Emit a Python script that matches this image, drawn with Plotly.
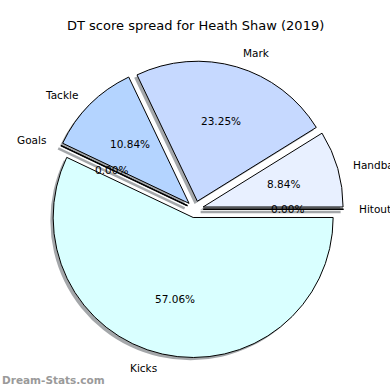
import numpy as np
import plotly.graph_objects as go

# ---- data ----
categories = ["Hitout", "Handball", "Mark", "Tackle", "Goals", "Kicks"]
values = [0.0, 8.84, 23.25, 10.84, 0.0, 57.06]
slice_colors = ["#e4eeff", "#e8f0ff", "#c6d9ff", "#b4d4ff", "#c0dcff", "#d9ffff"]
explode = [0.06, 0.06, 0.06, 0.06, 0.06, 0.06]
title_text = "DT score spread for Heath Shaw (2019)"
watermark = "Dream-Stats.com"

# ---- geometry (pixels) ----
W = H = 390
CX, CY, R = 195.0, 209.3, 140.0
maxpull = max(explode)
half = R * (1 + maxpull)
dom_x = [(CX - half) / W, (CX + half) / W]
dom_y = [(H - (CY + half)) / H, (H - (CY - half)) / H]
SH = 2.8  # shadow offset px (left / down)
sdom_x = [dom_x[0] - SH / W, dom_x[1] - SH / W]
sdom_y = [dom_y[0] - SH / H, dom_y[1] - SH / H]

font_family = "DejaVu Sans"

fig = go.Figure()

# shadow
fig.add_trace(go.Pie(
    labels=categories, values=values, sort=False, direction="counterclockwise",
    rotation=90, pull=explode, domain=dict(x=sdom_x, y=sdom_y),
    marker=dict(colors=["rgba(90,95,100,0.55)"] * len(values), line=dict(width=0)),
    textinfo="none", hoverinfo="skip", showlegend=False,
))
# wedges
fig.add_trace(go.Pie(
    labels=categories, values=values, sort=False, direction="counterclockwise",
    rotation=90, pull=explode, domain=dict(x=dom_x, y=dom_y),
    marker=dict(colors=slice_colors, line=dict(color="black", width=1)),
    textinfo="none", showlegend=False,
))

# label positions (matplotlib style): label at 1.1r, pct at 0.6r, shifted by explode
total = sum(values)
start = 0.0
lx, ly, px, py = [], [], [], []
zero_lines_x, zero_lines_y = [], []
sx, sy = [], []
for cat, v, e in zip(categories, values, explode):
    frac = v / total
    mid = np.deg2rad(360 * (start + frac / 2))
    c, s = np.cos(mid), np.sin(mid)
    lx.append((1.1 + e) * c); ly.append((1.1 + e) * s)
    px.append((0.6 + e) * c); py.append((0.6 + e) * s)
    if v == 0:
        zero_lines_x += [e * c, (1 + e) * c, None]
        zero_lines_y += [e * s, (1 + e) * s, None]
        sx += [e * c - SH / R, (1 + e) * c - SH / R, None]
        sy += [e * s - SH / R, (1 + e) * s - SH / R, None]
    start += frac

# overlay axes spanning the whole figure, 1 data unit == pie radius
xrng = [(0 - CX) / R, (W - CX) / R]
yrng = [(CY - H) / R, CY / R]
fig.add_trace(go.Scatter(x=sx, y=sy, mode="lines", line=dict(color="rgba(90,95,100,0.55)", width=2.5),
                         hoverinfo="skip", showlegend=False))
fig.add_trace(go.Scatter(x=zero_lines_x, y=zero_lines_y, mode="lines", line=dict(color="black", width=1.5),
                         hoverinfo="skip", showlegend=False))

annotations = []
for cat, x, y in zip(categories, lx, ly):
    annotations.append(dict(x=x, y=y, xref="x", yref="y", text=cat, showarrow=False,
                            xanchor="left" if x > 0 else "right", yanchor="middle",
                            font=dict(family=font_family, size=10.5, color="black")))
for v, x, y in zip(values, px, py):
    annotations.append(dict(x=x, y=y, xref="x", yref="y", text=f"{v:.2f}%",
                            showarrow=False, xanchor="center", yanchor="middle",
                            font=dict(family=font_family, size=10.5, color="black")))
annotations.append(dict(x=0.5, y=1 - 26 / H, xref="paper", yref="paper", text=title_text,
                        showarrow=False, xanchor="center", yanchor="middle",
                        font=dict(family=font_family, size=13, color="black")))
annotations.append(dict(x=0, y=1 - 380 / H, xref="paper", yref="paper", text=f"<b>{watermark}</b>",
                        showarrow=False, xanchor="left", yanchor="middle",
                        font=dict(family=font_family, size=10.5, color="#9a9a9a")))

fig.update_layout(
    width=W, height=H, margin=dict(l=0, r=0, t=0, b=0),
    paper_bgcolor="white", plot_bgcolor="rgba(0,0,0,0)",
    xaxis=dict(domain=[0, 1], range=xrng, visible=False, fixedrange=True),
    yaxis=dict(domain=[0, 1], range=yrng, visible=False, fixedrange=True),
    annotations=annotations,
)
fig.write_html("out.html", config={"displayModeBar": False},
               post_script="document.body.style.margin='0';document.body.style.overflow='hidden';")
